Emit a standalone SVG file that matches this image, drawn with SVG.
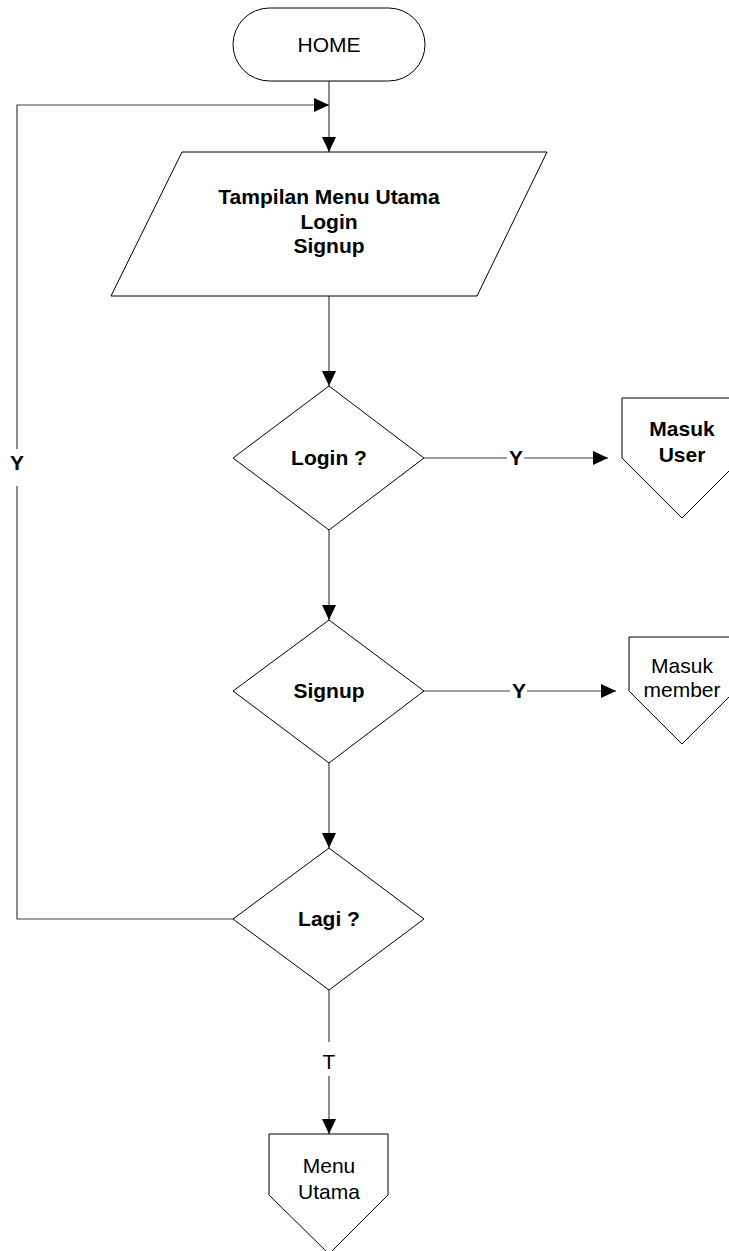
<svg xmlns="http://www.w3.org/2000/svg" width="729" height="1251" viewBox="0 0 729 1251">
<style>
.shape{fill:#ffffff;stroke:#000000;stroke-width:1}
.conn{fill:none;stroke:#404040;stroke-width:1.2}
.t{font-family:"Liberation Sans",Arial,sans-serif;font-size:21px;fill:#000000;text-anchor:middle}
.b{font-weight:bold}
.bg{fill:#ffffff;stroke:none}
</style>
<defs>
<marker id="arr" markerWidth="15" markerHeight="14" refX="15" refY="7" orient="auto" markerUnits="userSpaceOnUse">
<path d="M0,0 L15,7 L0,14 z" fill="#000000"/>
</marker>
</defs>
<rect width="729" height="1251" fill="#ffffff"/>
<g id="connectors">
<path class="conn" d="M329,81 V152" marker-end="url(#arr)"/>
<path class="conn" d="M329,296 V386" marker-end="url(#arr)"/>
<path class="conn" d="M329,530 V620" marker-end="url(#arr)"/>
<path class="conn" d="M329,763 V848" marker-end="url(#arr)"/>
<path class="conn" d="M329,990 V1134" marker-end="url(#arr)"/>
<path class="conn" d="M424,458 H608" marker-end="url(#arr)"/>
<path class="conn" d="M424,691 H616" marker-end="url(#arr)"/>
<path class="conn" d="M233,919 H17 V105 H329" marker-end="url(#arr)"/>
<rect class="bg" x="9" y="449" width="17" height="37"/>
<text class="t b" x="17" y="470">Y</text>
<rect class="bg" x="507" y="448" width="17" height="20"/>
<text class="t b" x="516" y="465">Y</text>
<rect class="bg" x="510" y="681" width="17" height="20"/>
<text class="t b" x="519" y="698">Y</text>
<rect class="bg" x="320" y="1042" width="18" height="34"/>
<text class="t" x="329" y="1069">T</text>
</g>
<g id="home">
<rect class="shape" x="233" y="8" width="192" height="73" rx="36.5" ry="36.5"/>
<text class="t" x="329" y="52">HOME</text>
</g>
<g id="menu-display">
<polygon class="shape" points="182,152 547,152 477,296 111,296"/>
<text class="t b" x="329" y="204">Tampilan Menu Utama</text>
<text class="t b" x="329" y="229">Login</text>
<text class="t b" x="329" y="253">Signup</text>
</g>
<g id="login-decision">
<polygon class="shape" points="329,386 424,458 329,530 233,458"/>
<text class="t b" x="329" y="465">Login ?</text>
</g>
<g id="masuk-user">
<polygon class="shape" points="622,398 742,398 742,458 682,518 622,458"/>
<text class="t b" x="682" y="436">Masuk</text>
<text class="t b" x="682" y="462">User</text>
</g>
<g id="signup-decision">
<polygon class="shape" points="329,620 424,691 329,763 233,691"/>
<text class="t b" x="329" y="698">Signup</text>
</g>
<g id="masuk-member">
<polygon class="shape" points="629,637 735,637 735,691 682,744 629,691"/>
<text class="t" x="682" y="673">Masuk</text>
<text class="t" x="682" y="697">member</text>
</g>
<g id="lagi-decision">
<polygon class="shape" points="329,848 424,919 329,990 233,919"/>
<text class="t b" x="329" y="926">Lagi ?</text>
</g>
<g id="menu-utama">
<polygon class="shape" points="269,1134 388,1134 388,1195 329,1254 269,1195"/>
<text class="t" x="329" y="1173">Menu</text>
<text class="t" x="329" y="1199">Utama</text>
</g>
</svg>
